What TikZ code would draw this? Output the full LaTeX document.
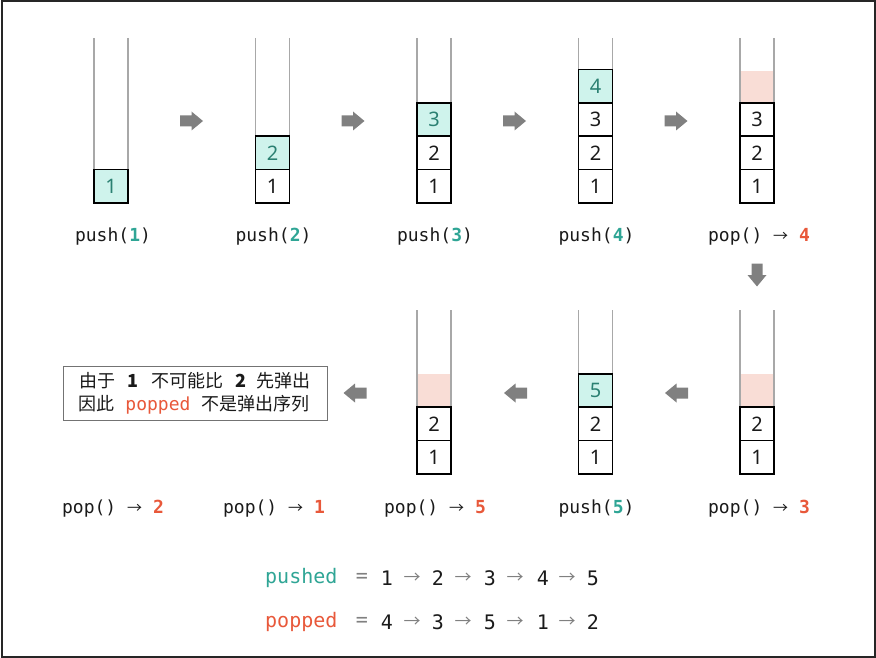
\documentclass[tikz,border=0pt]{standalone}
\usepackage{fontspec}
\setmainfont{Noto Sans}
\setmonofont{DejaVu Sans Mono}
\newfontfamily\cjk{Noto Sans CJK SC}
\definecolor{teal1}{HTML}{2FA595}
\definecolor{tealdark}{HTML}{2B8072}
\definecolor{cellfill}{HTML}{CFF3EC}
\definecolor{pinkfill}{HTML}{F9DDD6}
\definecolor{red1}{HTML}{E8583A}
\definecolor{tubegray}{HTML}{A8A8A8}
\definecolor{arrowgray}{HTML}{808080}
\definecolor{ink}{HTML}{1A1A1A}
\tikzset{
  cell/.style={draw=black, line width=1.7pt, minimum width=34pt, minimum height=33.4pt, inner sep=0pt, font=\fontsize{20}{20}\selectfont, fill=white, text=ink},
  newcell/.style={cell, fill=cellfill, text=tealdark},
  ghost/.style={fill=pinkfill, draw=none, minimum width=34pt, minimum height=33.4pt, inner sep=0pt},
  tube/.style={draw=tubegray, line width=1.3pt},
  lbl/.style={font=\ttfamily\fontsize{18}{18}\selectfont, inner sep=0pt, text=ink},
  seq/.style={font=\ttfamily\fontsize{20}{20}\selectfont, inner sep=0pt, text=ink},
  seqop/.style={seq, text=arrowgray},
  cjkline/.style={font=\cjk\fontsize{18}{18}\selectfont, inner sep=0pt, text=ink},
  pics/blockarrow/.style={code={
    \fill[arrowgray] (-11.5,-5.5) -- (0,-5.5) -- (0,-9.5) -- (11.5,0) -- (0,9.5) -- (0,5.5) -- (-11.5,5.5) -- cycle;
  }},
}
\newcommand{\pushd}[1]{\textbf{\textcolor{teal1}{#1}}}
\newcommand{\popd}[1]{\textbf{\textcolor{red1}{#1}}}
\newcommand{\rarrow}{{\cjk\fontsize{15}{15}\selectfont →}}
\newcommand{\sarrow}{{\cjk\fontsize{17}{17}\selectfont →}}
\begin{document}
\begin{tikzpicture}[x=1pt,y=-1pt]
\useasboundingbox (0,0) rectangle (876,658);
\draw[line width=2pt, draw=black!85] (1.5,1.5) rectangle (874.5,656.5);

% ghost (popped) slots
\node[ghost] (g5) at (757,87.5) {};
\node[ghost] (g6) at (757,390.5) {};
\node[ghost] (g8) at (434,390.5) {};

% tubes, top row
\foreach \x in {111,272.5,434,595.5,757}{
  \draw[tube] (\x-17,38) -- (\x-17,203);
  \draw[tube] (\x+17,38) -- (\x+17,203);
}
% tubes, bottom row
\foreach \x in {434,595.5,757}{
  \draw[tube] (\x-17,310) -- (\x-17,474);
  \draw[tube] (\x+17,310) -- (\x+17,474);
}

% stack 1
\node[newcell] (a1) at (111,186.3) {1};
% stack 2
\node[cell] (b1) at (272.5,186.3) {1};
\node[newcell] (b2) at (272.5,152.9) {2};
% stack 3
\node[cell] (c1) at (434,186.3) {1};
\node[cell] (c2) at (434,152.9) {2};
\node[newcell] (c3) at (434,119.5) {3};
% stack 4
\node[cell] (d1) at (595.5,186.3) {1};
\node[cell] (d2) at (595.5,152.9) {2};
\node[cell] (d3) at (595.5,119.5) {3};
\node[newcell] (d4) at (595.5,86.1) {4};
% stack 5
\node[cell] (e1) at (757,186.3) {1};
\node[cell] (e2) at (757,152.9) {2};
\node[cell] (e3) at (757,119.5) {3};

% bottom row: pop 3
\node[cell] (f1) at (757,457.3) {1};
\node[cell] (f2) at (757,423.9) {2};
% push 5
\node[cell] (h1) at (595.5,457.3) {1};
\node[cell] (h2) at (595.5,423.9) {2};
\node[newcell] (h5) at (595.5,390.5) {5};
% pop 5
\node[cell] (k1) at (434,457.3) {1};
\node[cell] (k2) at (434,423.9) {2};

% labels top
\node[lbl] (la) at (113,237) {push(\pushd{1})};
\node[lbl] (lb) at (273.5,237) {push(\pushd{2})};
\node[lbl] (lc) at (435,237) {push(\pushd{3})};
\node[lbl] (ld) at (596.5,237) {push(\pushd{4})};
\node[lbl] (le) at (759,237) {pop() \rarrow{} \popd{4}};
% labels bottom
\node[lbl] (lf) at (759,509) {pop() \rarrow{} \popd{3}};
\node[lbl] (lh) at (596.5,509) {push(\pushd{5})};
\node[lbl] (lk) at (435,509) {pop() \rarrow{} \popd{5}};
\node[lbl] (lm) at (274,509) {pop() \rarrow{} \popd{1}};
\node[lbl] (ln) at (113,509) {pop() \rarrow{} \popd{2}};

% block arrows
\pic at (191.5,121) {blockarrow};
\pic at (353,121) {blockarrow};
\pic at (514.5,121) {blockarrow};
\pic at (676,121) {blockarrow};
\pic[rotate=-90] at (757,275) {blockarrow};
\pic[rotate=180] at (676.5,393) {blockarrow};
\pic[rotate=180] at (515.5,393) {blockarrow};
\pic[rotate=180] at (355,393) {blockarrow};

% note box
\node[draw=black!55, line width=1pt, minimum width=264pt, minimum height=54pt, inner sep=0pt] (box) at (195,393) {};
\node[cjkline] (t1) at (195,381) {由于\hspace{12pt}\textbf{1}\hspace{13pt}不可能比\hspace{12pt}\textbf{2}\hspace{10pt}先弹出};
\node[cjkline] (t2) at (194,405) {因此\hspace{11pt}{\ttfamily\fontsize{18}{18}\selectfont\textcolor{red1}{popped}}\hspace{11pt}不是弹出序列};

% sequences
\node[seq, anchor=west, text=teal1] (pu) at (265,578) {pushed};
\node[seqop] (pueq) at (362,578) {=};
\node[seq] (p1) at (387,578) {1};
\node[seqop] (pa1) at (412,578) {\sarrow};
\node[seq] (p2) at (438,578) {2};
\node[seqop] (pa2) at (463,578) {\sarrow};
\node[seq] (p3) at (490,578) {3};
\node[seqop] (pa3) at (515,578) {\sarrow};
\node[seq] (p4) at (543,578) {4};
\node[seqop] (pa4) at (567,578) {\sarrow};
\node[seq] (p5) at (593,578) {5};

\node[seq, anchor=west, text=red1] (po) at (265,622) {popped};
\node[seqop] (poeq) at (362,622) {=};
\node[seq] (q1) at (387,622) {4};
\node[seqop] (qa1) at (412,622) {\sarrow};
\node[seq] (q2) at (438,622) {3};
\node[seqop] (qa2) at (463,622) {\sarrow};
\node[seq] (q3) at (490,622) {5};
\node[seqop] (qa3) at (515,622) {\sarrow};
\node[seq] (q4) at (543,622) {1};
\node[seqop] (qa4) at (567,622) {\sarrow};
\node[seq] (q5) at (593,622) {2};
\end{tikzpicture}
\end{document}
